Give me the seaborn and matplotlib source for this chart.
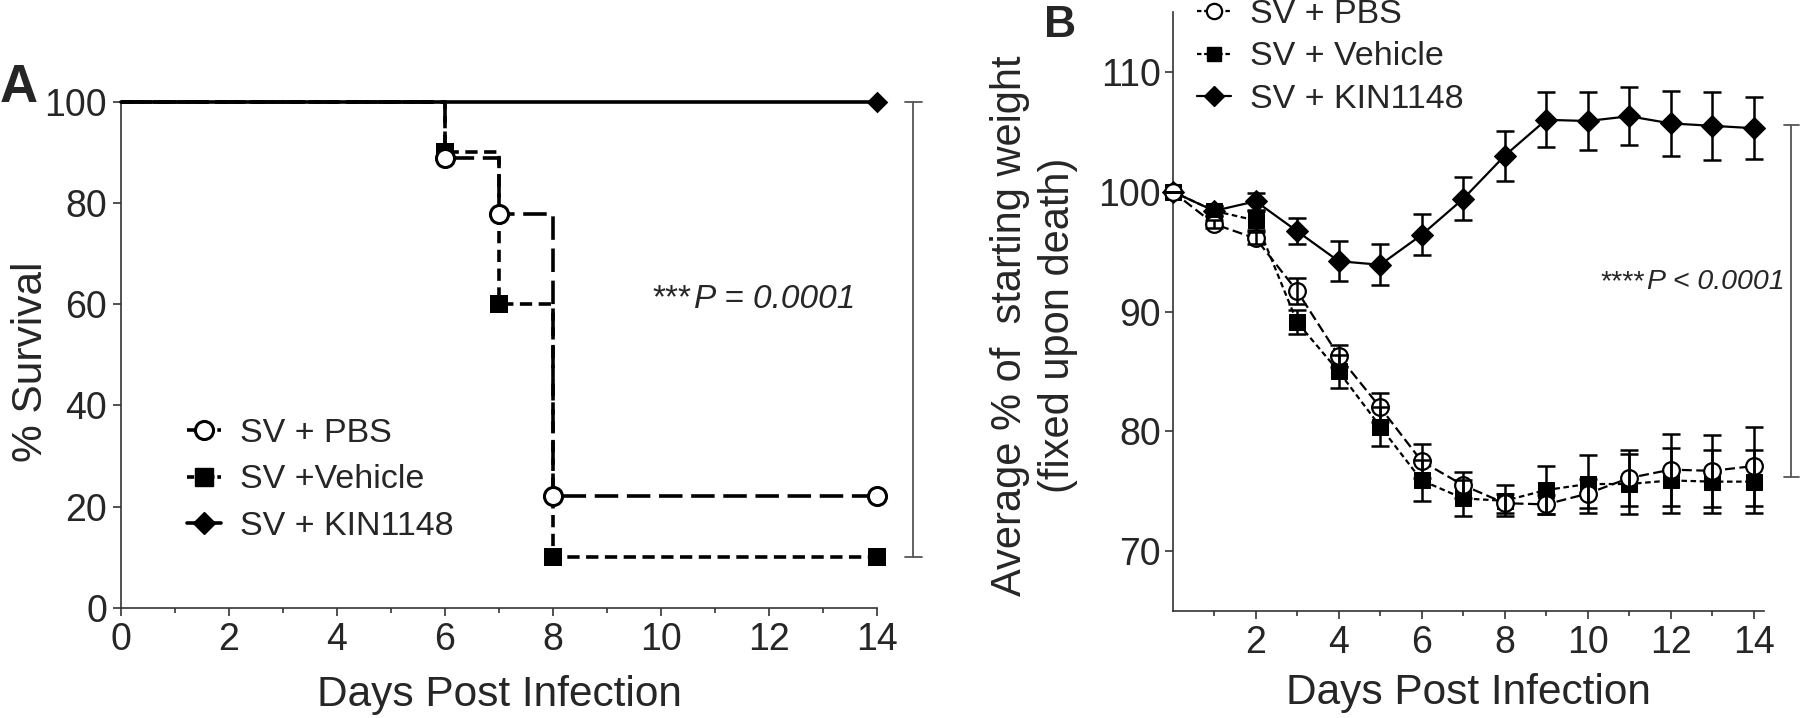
import numpy as np
import pandas as pd
import seaborn as sns
import matplotlib.pyplot as plt
from matplotlib import font_manager
from matplotlib.lines import Line2D
from matplotlib.ticker import MultipleLocator, FixedLocator

# Panel A: survival (%) at each event day
surv_days = [0, 6, 7, 8, 14]
surv_pbs = [100, 88.9, 77.8, 22.2, 22.2]
surv_veh = [100, 90, 60, 10, 10]
surv_kin_days = [0, 14]
surv_kin = [100, 100]

# Panel B: average % of starting weight, mean and SEM per day
days = list(range(15))
wt_pbs = [100, 97.3, 96.1, 91.7, 86.3, 82.0, 77.5, 75.5, 74.0, 73.9, 74.8, 76.1, 76.8, 76.7, 77.1]
err_pbs = [0, 0.3, 0.5, 1.1, 0.9, 1.2, 1.4, 1.1, 0.8, 0.8, 1.2, 2.3, 3.0, 3.0, 3.3]
wt_veh = [100, 98.4, 97.6, 89.1, 85.0, 80.4, 75.9, 74.4, 74.2, 75.1, 75.6, 75.6, 75.9, 75.8, 75.8]
err_veh = [0, 0.4, 0.8, 1.0, 1.4, 1.6, 1.7, 1.5, 1.3, 2.0, 2.4, 2.5, 2.7, 2.6, 2.6]
wt_kin = [100, 98.4, 99.2, 96.7, 94.2, 93.9, 96.4, 99.4, 103.0, 106.0, 105.9, 106.3, 105.7, 105.5, 105.3]
err_kin = [0, 0.4, 0.7, 1.1, 1.65, 1.7, 1.7, 1.8, 2.1, 2.3, 2.4, 2.4, 2.7, 2.85, 2.6]

labels_a = ['SV + PBS', 'SV +Vehicle', 'SV + KIN1148']
labels_b = ['SV + PBS', 'SV + Vehicle', 'SV + KIN1148']

sns.set_style('ticks')
plt.rcParams['font.family'] = ['Liberation Sans', 'DejaVu Sans']
plt.rcParams['axes.edgecolor'] = '#333333'
plt.rcParams['axes.linewidth'] = 1.2

# condensed face for the panel B p-value, if the narrow Liberation font is there
installed = {f.name for f in font_manager.fontManager.ttflist}
if 'Liberation Sans Narrow' in installed:
    pb_family, pb_size = ['Liberation Sans Narrow', 'Liberation Sans'], 25
else:
    pb_family, pb_size = ['Liberation Sans', 'DejaVu Sans'], 20.5

fig = plt.figure(figsize=(18, 7.18), dpi=100)
axA = fig.add_axes([0.0672, 0.1532, 0.42, 0.7052])
axB = fig.add_axes([0.6515, 0.149, 0.3285, 0.8343])

# ---------- Panel A ----------
pbs_ls = (0, (6.5, 2.4))
veh_ls = (0, (3.4, 1.8))
sns.lineplot(x=surv_kin_days, y=surv_kin, ax=axA, color='black', lw=2.6,
             drawstyle='steps-post', clip_on=False, zorder=3)
sns.lineplot(x=surv_days, y=surv_veh, ax=axA, color='black', lw=2.6, linestyle=veh_ls,
             drawstyle='steps-post', clip_on=False, zorder=3)
sns.lineplot(x=surv_days, y=surv_pbs, ax=axA, color='black', lw=2.6, linestyle=pbs_ls,
             drawstyle='steps-post', clip_on=False, zorder=3)
sns.scatterplot(x=surv_days[1:], y=surv_veh[1:], ax=axA, marker='s', s=13.5**2,
                color='black', edgecolor='black', linewidth=0, clip_on=False, zorder=4)
sns.scatterplot(x=surv_days[1:], y=surv_pbs[1:], ax=axA, marker='o', s=13**2,
                color='white', edgecolor='black', linewidth=2.2, clip_on=False, zorder=5)
sns.scatterplot(x=surv_kin_days[1:], y=surv_kin[1:], ax=axA, marker='D', s=11**2,
                color='black', edgecolor='black', linewidth=0, clip_on=False, zorder=5)

axA.set_xlim(0, 14)
axA.set_ylim(0, 100)
axA.xaxis.set_major_locator(MultipleLocator(2))
axA.xaxis.set_minor_locator(MultipleLocator(1))
axA.yaxis.set_major_locator(MultipleLocator(20))
axA.tick_params(which='major', length=6, width=1.2, color='#333333', labelsize=27, pad=4)
axA.tick_params(which='minor', length=3.5, width=1.2, color='#333333')
axA.set_xlabel('Days Post Infection', fontsize=30.5, labelpad=12)
axA.set_ylabel('% Survival', fontsize=30.5)
axA.yaxis.set_label_coords(-0.093, 0.486)
sns.despine(ax=axA)

axA.text(10.57, 59.3, '***', fontsize=24, ha='right', va='baseline')
axA.text(10.62, 59.3, 'P = 0.0001', fontsize=24, style='italic', ha='left', va='baseline')

# significance bracket
axA.plot([14.67, 14.67], [10, 100], color='#555555', lw=1.3, clip_on=False)
axA.plot([14.52, 14.83], [100, 100], color='#555555', lw=1.3, clip_on=False)
axA.plot([14.52, 14.83], [10, 10], color='#555555', lw=1.3, clip_on=False)

handles_a = [
    Line2D([], [], color='black', lw=2.6, ls=(0, (2, 0.8)), marker='o', ms=13,
           mfc='white', mec='black', mew=2.2),
    Line2D([], [], color='black', lw=2.6, ls=(0, (2, 0.8)), marker='s', ms=13.5,
           mfc='black', mec='black'),
    Line2D([], [], color='black', lw=2.6, marker='D', ms=11, mfc='black', mec='black'),
]
fig.legend(handles_a, labels_a, loc='center left', bbox_to_anchor=(187 / 1800, 1 - 480 / 718),
           frameon=False, fontsize=24.5, handlelength=1.0, handletextpad=0.55,
           labelspacing=0.45, borderpad=0, borderaxespad=0)

# ---------- Panel B ----------
sns.lineplot(x=days, y=wt_kin, ax=axB, color='black', lw=1.6, marker='D', ms=11,
             mfc='black', mec='black', clip_on=False, zorder=3)
sns.lineplot(x=days, y=wt_veh, ax=axB, color='black', lw=1.6, linestyle=(0, (2.5, 1.6)),
             marker='s', ms=11, mfc='black', mec='black', clip_on=False, zorder=3)
sns.lineplot(x=days, y=wt_pbs, ax=axB, color='black', lw=1.6, linestyle=(0, (4.5, 2)),
             marker='o', ms=12, mfc='white', mec='black', mew=1.6, clip_on=False, zorder=4)
for m, e in [(wt_kin, err_kin), (wt_veh, err_veh), (wt_pbs, err_pbs)]:
    axB.errorbar(days, m, yerr=e, fmt='none', ecolor='black', elinewidth=1.8,
                 capsize=6.5, capthick=1.8, clip_on=False, zorder=5)

axB.set_xlim(0, 14.25)
axB.set_ylim(65, 115)
axB.xaxis.set_major_locator(FixedLocator([2, 4, 6, 8, 10, 12, 14]))
axB.xaxis.set_minor_locator(FixedLocator([1, 3, 5, 7, 9, 11, 13]))
axB.yaxis.set_major_locator(FixedLocator([70, 80, 90, 100, 110]))
axB.tick_params(which='major', length=6, width=1.2, color='#333333', labelsize=27, pad=2.5)
axB.tick_params(axis='x', which='major', pad=4)
axB.tick_params(which='minor', length=3.5, width=1.2, color='#333333')
axB.set_xlabel('Days Post Infection', fontsize=30.5, labelpad=9)
axB.set_ylabel('Average % of  starting weight\n(fixed upon death)', fontsize=30,
               linespacing=1.25)
axB.yaxis.set_label_coords(-0.160, 0.477)
sns.despine(ax=axB)

axB.text(11.38, 91.9, '****', fontsize=pb_size, family=pb_family, ha='right', va='baseline')
axB.text(11.42, 91.9, 'P < 0.0001', fontsize=pb_size, family=pb_family, style='italic',
         ha='left', va='baseline')

axB.plot([14.91, 14.91], [76.2, 105.6], color='#555555', lw=1.3, clip_on=False)
axB.plot([14.72, 15.1], [105.6, 105.6], color='#555555', lw=1.3, clip_on=False)
axB.plot([14.72, 15.1], [76.2, 76.2], color='#555555', lw=1.3, clip_on=False)

handles_b = [
    Line2D([], [], color='black', lw=1.6, ls=(0, (2, 1.2)), marker='o', ms=11,
           mfc='white', mec='black', mew=1.6),
    Line2D([], [], color='black', lw=1.6, ls=(0, (2, 1.2)), marker='s', ms=10,
           mfc='black', mec='black'),
    Line2D([], [], color='black', lw=1.6, marker='D', ms=10, mfc='black', mec='black'),
]
fig.legend(handles_b, labels_b, loc='center left', bbox_to_anchor=(1197 / 1800, 1 - 57 / 718),
           frameon=False, fontsize=24.5, handlelength=1.0, handletextpad=0.55,
           labelspacing=0.33, borderpad=0, borderaxespad=0)

# panel letters
fig.text(0.0, 1 - 102 / 718, 'A', fontsize=38, fontweight='bold', va='baseline', ha='left')
fig.text(1044 / 1800, 1 - 37 / 718, 'B', fontsize=32, fontweight='bold', va='baseline', ha='left')

fig.savefig('out.png', dpi=100)
